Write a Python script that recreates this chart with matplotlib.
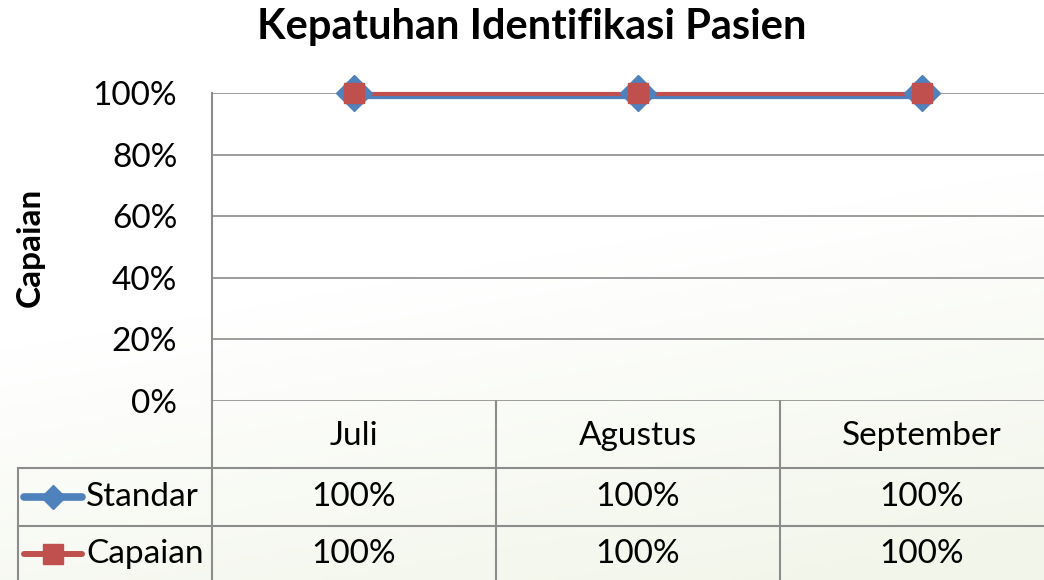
#!/usr/bin/env python3
# Kepatuhan Identifikasi Pasien - line chart with Excel style data table

import numpy as np
from matplotlib import pyplot as plt
from matplotlib import patheffects as pe
from matplotlib.lines import Line2D

months = ["Juli", "Agustus", "September"]
standar = [1.00, 1.00, 1.00]
capaian = [1.00, 1.00, 1.00]
series_names = ["Standar", "Capaian"]
yticks = [0, 0.2, 0.4, 0.6, 0.8, 1.0]

W, H = 1044, 580
blue = "#4f81bd"
red = "#c0504d"
grid = "#8c8c8c"
font = "Lato"
fs = 24

fig = plt.figure(figsize=(W / 100, H / 100), dpi=100)

# faint greenish background wash, like the slide behind the chart
bg = fig.add_axes([0, 0, 1, 1], zorder=-10)
yy, xx = np.mgrid[0:1:200j, 0:1:300j]
w = np.clip((yy - 0.45) * 1.6 + (xx - 0.5) * 0.5, 0, 1)
top = np.array([1.0, 1.0, 1.0])
bot = np.array([0.95, 0.965, 0.92])
img = top[None, None, :] * (1 - w[..., None]) + bot[None, None, :] * w[..., None]
bg.imshow(img, aspect="auto", extent=[0, 1, 0, 1], origin="upper")
bg.axis("off")

# plot area (right edge of the chart runs past the picture)
catw = 284
x0, ytop, ybot = 212, 93, 401
xmax = -0.5 + (W - x0) / catw
ax = fig.add_axes([x0 / W, (H - ybot) / H, (W - x0) / W, (ybot - ytop) / H])
ax.set_facecolor("none")
ax.set_xlim(-0.5, xmax)
ax.set_ylim(0, 1)
ax.set_yticks(yticks)
ax.set_yticklabels([f"{int(round(v * 100))}%" for v in yticks], fontsize=fs, family=font)
ax.tick_params(axis="y", length=0, pad=25)
ax.set_xticks([])
for v in yticks:
    ax.axhline(v, color=grid, lw=1.2, zorder=1)
for s in ["top", "right", "bottom"]:
    ax.spines[s].set_visible(False)
ax.spines["left"].set_color(grid)
ax.spines["left"].set_linewidth(1.5)
xs = np.arange(len(months))
# lines first (drawn slightly offset like the Excel rendering), markers on top
ax.plot(xs, standar, color=blue, lw=4.5, zorder=3, clip_on=False,
        path_effects=[pe.Stroke(offset=(0, -2.2))])
ax.plot(xs, capaian, color=red, lw=3, zorder=4, clip_on=False,
        path_effects=[pe.Stroke(offset=(0, -0.6))])
ax.plot(xs, standar, lw=0, marker="D", ms=18, mfc=blue, mec=blue, zorder=5, clip_on=False)
ax.plot(xs, capaian, lw=0, marker="s", ms=15, mfc=red, mec=red, zorder=6, clip_on=False)

ax.set_ylabel("Capaian", fontsize=fs, fontweight="bold", family=font)
ax.yaxis.set_label_coords((45 - x0) / (W - x0), 0.5)
fig.text(532 / W, 1 - 27 / H, "Kepatuhan Identifikasi Pasien", ha="center", va="center",
         fontsize=30, fontweight="bold", family=font)

# data table below the plot area
tl = 18
tab = fig.add_axes([tl / W, 0, (W - tl) / W, (H - ybot) / H])
tab.set_xlim(-0.5 - (x0 - tl) / catw, xmax)
tab.set_ylim(0, H - ybot)
tab.axis("off")
tab.patch.set_visible(False)
left = -0.5 - (x0 - tl) / catw
hrow = [H - ybot, H - 468, H - 526, -5]
for i in range(len(months)):
    tab.plot([i - 0.5, i - 0.5], [hrow[0], hrow[-1]], color=grid, lw=1.5, clip_on=False)
for yv in hrow[1:3]:
    tab.plot([left, xmax], [yv, yv], color=grid, lw=1.5, clip_on=False)
tab.plot([left, left], [hrow[1], hrow[-1]], color=grid, lw=1.5, clip_on=False)

for i, m in enumerate(months):
    tab.text(i, H - 436, m, ha="center", va="center", fontsize=fs, family=font)
rows = [standar, capaian]
row_y = [H - 497, H - 554]
mk = [("D", blue, 5.5, 12), ("s", red, 4.3, 14)]
for r, (name, vals) in enumerate(zip(series_names, rows)):
    yc = row_y[r]
    for i, v in enumerate(vals):
        tab.text(i, yc, f"{int(round(v * 100))}%", ha="center", va="center", fontsize=fs, family=font)
    m, c, lw, ms = mk[r]
    lx = left + 6 / catw
    tab.add_line(Line2D([lx, lx + 58 / catw], [yc, yc], color=c, lw=lw, solid_capstyle="round"))
    tab.add_line(Line2D([lx + 29 / catw], [yc], marker=m, ms=ms, color=c, lw=0))
    tab.text(lx + 62 / catw, yc, name, ha="left", va="center", fontsize=fs, family=font)

fig.savefig("out.png", dpi=100)
